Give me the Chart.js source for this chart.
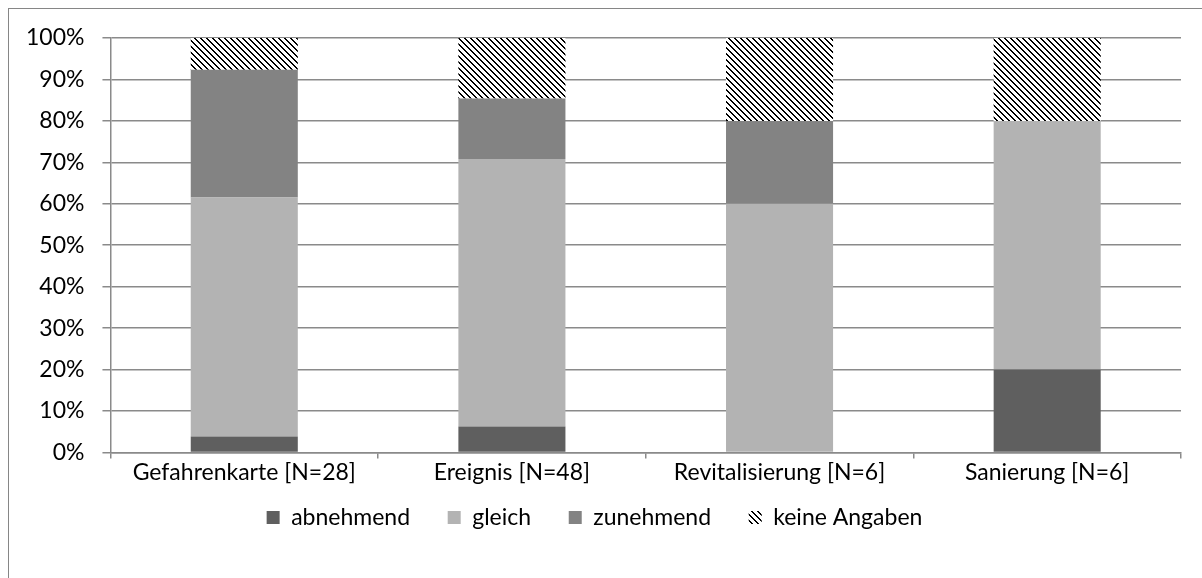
<!DOCTYPE html>
<html>
<head>
<meta charset="utf-8">
<script src="https://cdn.jsdelivr.net/npm/chart.js@4"></script>
<style>
  html, body { margin: 0; padding: 0; background: #fff; overflow: hidden; }
  #frame { position: absolute; left: 8px; top: 8px; width: 1200px; height: 580px; border: 1px solid #868686; box-sizing: border-box; }
  #wrap { position: absolute; left: 0; top: 0; width: 1202px; height: 578px; }
</style>
</head>
<body>
<div id="frame"></div>
<div id="wrap"><canvas id="chart" width="1202" height="578"></canvas></div>
<script>
const categories = ['Gefahrenkarte [N=28]', 'Ereignis [N=48]', 'Revitalisierung [N=6]', 'Sanierung [N=6]'];
const abnehmend = [3.85, 6.25, 0, 20];
const gleich = [57.69, 64.58, 60, 60];
const zunehmend = [30.77, 14.58, 20, 0];
const keineAngaben = [7.69, 14.58, 20, 20];

// diagonal hatch for "keine Angaben"
function hatch() {
  const c = document.createElement('canvas');
  c.width = 6; c.height = 6;
  const g = c.getContext('2d');
  g.fillStyle = '#fff';
  g.fillRect(0, 0, 6, 6);
  g.fillStyle = '#000';
  for (let i = 0; i < 6; i++) {
    g.fillRect(i, i, 1, 1);
    g.fillRect((i + 1) % 6, i, 1, 1);
  }
  return g.createPattern(c, 'repeat');
}

const ctx = document.getElementById('chart');
const hatchFill = hatch();
const font = { family: "Lato, sans-serif", size: 23 };

new Chart(ctx, {
  type: 'bar',
  data: {
    labels: categories,
    datasets: [
      { label: 'abnehmend', data: abnehmend, backgroundColor: '#5f5f5f' },
      { label: 'gleich', data: gleich, backgroundColor: '#b3b3b3' },
      { label: 'zunehmend', data: zunehmend, backgroundColor: '#838383' },
      { label: 'keine Angaben', data: keineAngaben, backgroundColor: hatchFill }
    ]
  },
  options: {
    responsive: false,
    animation: false,
    datasets: {
      bar: { barPercentage: 0.4, categoryPercentage: 1, borderWidth: 0 }
    },
    layout: { padding: { left: 8, right: 21, top: 38, bottom: 39 } },
    scales: {
      x: {
        stacked: true,
        border: { color: '#8a8a8a', width: 1.5 },
        grid: { offset: true, drawOnChartArea: false, drawTicks: true, tickLength: 6, color: '#8a8a8a', lineWidth: 1.5 },
        ticks: { color: '#000', font: font, padding: 0 }
      },
      y: {
        stacked: true,
        min: 0,
        max: 100,
        border: { color: '#8a8a8a', width: 1.5 },
        grid: { color: '#8a8a8a', lineWidth: 1.5, tickLength: 8 },
        ticks: {
          stepSize: 10,
          color: '#000',
          padding: 18,
          font: font,
          callback: v => v + '%'
        }
      }
    },
    plugins: {
      tooltip: { enabled: false },
      legend: {
        position: 'bottom',
        labels: {
          color: '#000',
          font: font,
          boxWidth: 13,
          boxHeight: 13,
          padding: 20,
          generateLabels: chart => {
            const items = Chart.defaults.plugins.legend.labels.generateLabels(chart);
            items.forEach((it, i) => { if (i < items.length - 1) it.text += '   '; });
            return items;
          }
        }
      }
    }
  }
});
</script>
</body>
</html>
